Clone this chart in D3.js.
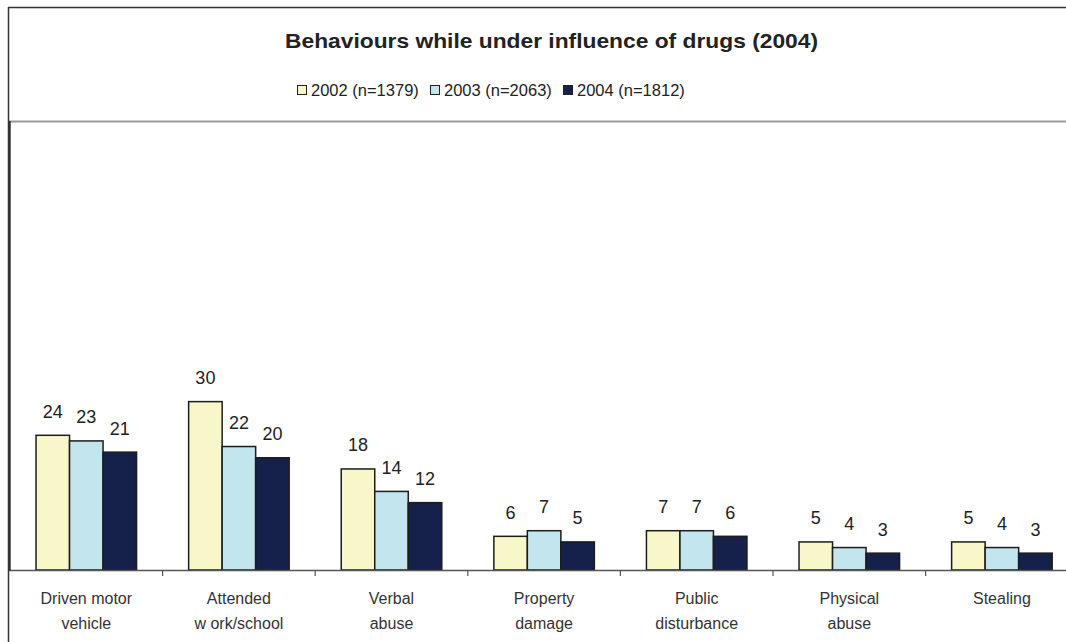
<!DOCTYPE html>
<html>
<head>
<meta charset="utf-8">
<script src="https://cdn.jsdelivr.net/npm/d3@7"></script>
<style>
  html, body { margin: 0; padding: 0; background: #fff; }
  svg { display: block; font-family: "Liberation Sans", Arial, sans-serif; }
</style>
</head>
<body>
<svg id="chart" width="1066" height="642"></svg>
<script>
// Behaviours while under influence of drugs, by survey year (%)
const categories = [
  ["Driven motor", "vehicle"],
  ["Attended", "w ork/school"],
  ["Verbal", "abuse"],
  ["Property", "damage"],
  ["Public", "disturbance"],
  ["Physical", "abuse"],
  ["Stealing"]
];
const seriesNames = ["2002 (n=1379)", "2003 (n=2063)", "2004 (n=1812)"];
const values2002 = [24, 30, 18, 6, 7, 5, 5];
const values2003 = [23, 22, 14, 7, 7, 4, 4];
const values2004 = [21, 20, 12, 5, 6, 3, 3];
const seriesColors = ["#f8f7c9", "#c3e5ee", "#15214b"];
const yDomain = [0, 80];

const seriesValues = [values2002, values2003, values2004];
const svg = d3.select("#chart");

// Frame: outer border and divider under the header
svg.append("line").attr("x1", 8).attr("x2", 1066).attr("y1", 7.5).attr("y2", 7.5)
  .attr("stroke", "#333").attr("stroke-width", 1.5);
svg.append("line").attr("x1", 8.5).attr("x2", 8.5).attr("y1", 7).attr("y2", 642)
  .attr("stroke", "#333").attr("stroke-width", 1.5);
svg.append("line").attr("x1", 9).attr("x2", 1066).attr("y1", 121.5).attr("y2", 121.5)
  .attr("stroke", "#9a9a9a").attr("stroke-width", 2);

// Title
svg.append("text")
  .attr("x", 285).attr("y", 48)
  .attr("textLength", 533).attr("lengthAdjust", "spacingAndGlyphs")
  .attr("font-size", 21).attr("font-weight", "bold").attr("fill", "#222")
  .text("Behaviours while under influence of drugs (2004)");

// Legend
const legend = svg.append("g").attr("transform", "translate(297,0)");
seriesNames.forEach((name, i) => {
  const g = legend.append("g").attr("transform", `translate(${i * 133},0)`);
  g.append("rect").attr("x", 0.5).attr("y", 85.5).attr("width", 9).attr("height", 9)
    .attr("fill", seriesColors[i]).attr("stroke", "#222").attr("stroke-width", 1);
  g.append("text").attr("x", 14).attr("y", 95.5)
    .attr("font-size", 16.5).attr("fill", "#222").text(name);
});

// Scales
const x = d3.scaleBand()
  .domain(d3.range(categories.length))
  .range([10, 10 + 7 * 152.6])
  .paddingInner(0).paddingOuter(0);
const xInner = d3.scaleBand()
  .domain(d3.range(seriesNames.length))
  .range([0, x.bandwidth()])
  .paddingInner(0).paddingOuter(0.777);
const y = d3.scaleLinear().domain(yDomain).range([570, 121]);

// Bars
const groups = svg.append("g").selectAll("g")
  .data(categories.map((c, i) => i))
  .join("g")
  .attr("transform", i => `translate(${x(i)},0)`);

groups.selectAll("rect")
  .data(i => seriesValues.map((vals, s) => ({ s, v: vals[i] })))
  .join("rect")
  .attr("x", d => xInner(d.s))
  .attr("y", d => y(d.v))
  .attr("width", xInner.bandwidth())
  .attr("height", d => y(0) - y(d.v))
  .attr("fill", d => seriesColors[d.s])
  .attr("stroke", "#1c1c1c").attr("stroke-width", 1.5);

// Value labels
groups.selectAll("text.val")
  .data(i => seriesValues.map((vals, s) => ({ s, v: vals[i] })))
  .join("text")
  .attr("class", "val")
  .attr("x", d => xInner(d.s) + xInner.bandwidth() / 2)
  .attr("y", d => y(d.v) - 17.5)
  .attr("text-anchor", "middle")
  .attr("font-size", 18).attr("fill", "#222")
  .text(d => d.v);

// X axis with ticks at category boundaries
const xAxis = svg.append("g");
xAxis.append("line").attr("x1", 10).attr("x2", 1066).attr("y1", 570.5).attr("y2", 570.5)
  .attr("stroke", "#555").attr("stroke-width", 1.5);
xAxis.selectAll("line.tick")
  .data(d3.range(1, categories.length))
  .join("line")
  .attr("class", "tick")
  .attr("x1", i => x(i)).attr("x2", i => x(i))
  .attr("y1", 570).attr("y2", 576)
  .attr("stroke", "#555").attr("stroke-width", 1.2);

// Category labels (two lines)
groups.selectAll("text.cat")
  .data(i => categories[i])
  .join("text")
  .attr("class", "cat")
  .attr("x", x.bandwidth() / 2)
  .attr("y", (d, j) => 604 + j * 25)
  .attr("text-anchor", "middle")
  .attr("font-size", 16).attr("fill", "#333")
  .text(d => d);

// Y axis line
svg.append("line").attr("x1", 9.5).attr("x2", 9.5).attr("y1", 121).attr("y2", 571)
  .attr("stroke", "#333").attr("stroke-width", 2.5);
</script>
</body>
</html>
